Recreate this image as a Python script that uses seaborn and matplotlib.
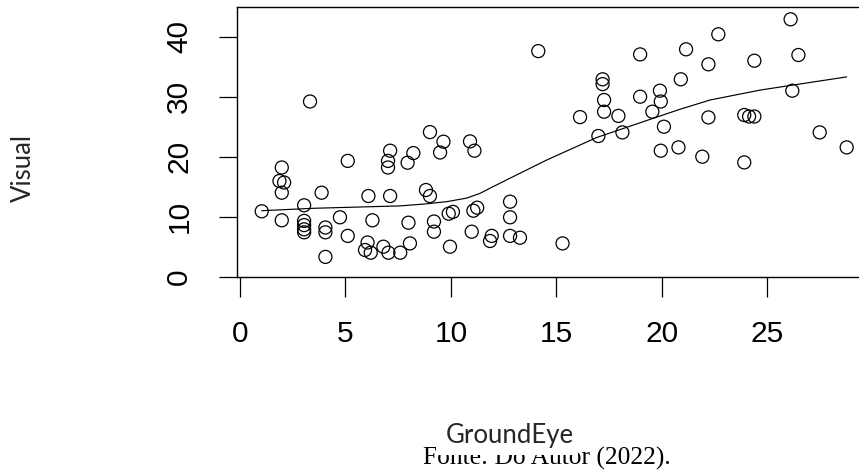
# Scatter of Visual vs GroundEye with a smoothed trend line (R base-graphics look)

import matplotlib
matplotlib.use("Agg")
import matplotlib.pyplot as plt
import matplotlib.patches as mpatches
import seaborn as sns


# ---------------------------------------------------------------------------
# Data
# ---------------------------------------------------------------------------

groundeye = [
    1.03, 1.98, 1.87, 2.09, 1.98, 1.98, 3.04, 3.04, 3.04, 3.04, 3.04,
    3.32, 3.87, 4.05, 4.05, 4.05, 4.74, 5.11, 5.11, 6.09, 6.28, 6.05,
    5.93, 6.20, 6.80, 7.04, 7.60, 7.12, 7.12, 7.02, 7.02, 7.95, 8.22,
    7.99, 8.06, 9.01, 9.65, 9.49, 8.82, 9.01, 9.20, 9.20, 9.90, 10.10,
    9.96, 10.91, 11.12, 10.99, 11.07, 11.25, 11.86, 11.94, 12.81, 12.81,
    12.81, 13.28, 14.15, 15.30, 16.13, 17.00, 17.20, 17.20, 17.27, 17.27,
    17.95, 18.14, 18.98, 18.98, 19.56, 19.92, 19.96, 20.11, 19.96, 20.80,
    20.91, 21.16, 21.93, 22.22, 22.22, 22.69, 23.92, 23.92, 24.15, 24.40,
    24.40, 26.12, 26.20, 26.49, 27.50, 28.78,
]
visual = [
    10.9, 18.2, 15.95, 15.7, 14.0, 9.4, 11.9, 9.3, 8.6, 7.9, 7.4,
    29.2, 14.0, 8.2, 7.4, 3.3, 9.9, 19.3, 6.8, 13.45, 9.4, 5.7,
    4.45, 4.0, 5.0, 4.0, 4.0, 13.45, 21.0, 19.3, 18.2, 19.0, 20.6,
    9.0, 5.55, 24.1, 22.5, 20.7, 14.45, 13.45, 9.2, 7.5, 10.5, 10.8,
    5.0, 22.55, 21.0, 7.5, 11.0, 11.5, 5.95, 6.8, 12.5, 9.9,
    6.8, 6.5, 37.6, 5.55, 26.6, 23.45, 32.9, 32.1, 29.45, 27.5,
    26.8, 24.05, 37.05, 30.0, 27.5, 31.0, 29.2, 25.0, 21.0, 21.55,
    32.9, 37.9, 20.0, 35.4, 26.55, 40.4, 26.95, 19.05, 26.7, 26.7,
    36.0, 42.9, 31.0, 36.95, 24.05, 21.55,
]

# smoothed trend line as traced on the picture
smooth_x = [1.03, 3.48, 5.50, 7.59, 8.70, 9.80, 10.75, 11.39, 12.00, 12.97,
            14.55, 16.13, 16.92, 18.18, 19.60, 20.87, 22.30, 24.67, 26.25, 28.78]
smooth_y = [11.0, 11.4, 11.6, 11.8, 12.1, 12.5, 13.1, 13.9, 15.0, 16.7,
            19.45, 21.95, 23.2, 24.7, 26.4, 27.9, 29.45, 31.1, 31.95, 33.3]

x_ticks = [0, 5, 10, 15, 20, 25]
y_ticks = [0, 10, 20, 30, 40]


# ---------------------------------------------------------------------------
# Style
# ---------------------------------------------------------------------------

sns.set_style("white")
plt.rcParams["font.family"] = ["Liberation Sans", "DejaVu Sans"]
plt.rcParams["text.color"] = "black"
plt.rcParams["xtick.color"] = "black"
plt.rcParams["ytick.color"] = "black"

W, H = 859, 470
fig = plt.figure(figsize=(W / 100, H / 100), dpi=100)

# axes box runs past the right edge, like the cropped original
ax = fig.add_axes([237.3 / W, (H - 277.3) / H, 635.1 / W, 270 / H])

sns.scatterplot(x=groundeye, y=visual, ax=ax, marker="o", s=88,
                facecolors="none", edgecolor="black", linewidth=0.9)
sns.lineplot(x=smooth_x, y=smooth_y, ax=ax, color="black", linewidth=0.85,
             sort=False, estimator=None)

ax.set_xlim(-0.13, 30.0)
ax.set_ylim(-0.1, 44.9)
ax.set_xticks(x_ticks)
ax.set_yticks(y_ticks)

for sp in ax.spines.values():
    sp.set_color("black")
    sp.set_linewidth(1.0)

ax.tick_params(axis="x", bottom=True, length=14.4, width=0.9, pad=16.5,
               labelsize=21.5, direction="out")
ax.tick_params(axis="y", left=True, length=13, width=0.9, pad=18.7,
               labelsize=21.5, labelrotation=90, direction="out")
for lab in ax.get_yticklabels():
    lab.set_verticalalignment("center")

# ---------------------------------------------------------------------------
# Labels
# ---------------------------------------------------------------------------

ax.set_ylabel("Visual", family=["Lato", "DejaVu Sans"], fontsize=18.5,
              va="center", ha="center")
ax.yaxis.set_label_coords(23 / W, (H - 168) / H, transform=fig.transFigure)

ax.set_xlabel("GroundEye", family=["Lato", "DejaVu Sans"], fontsize=18.5,
              va="baseline", ha="center")
ax.xaxis.set_label_coords(510 / W, (H - 443.3) / H, transform=fig.transFigure)

# source line sits behind a white box (the label's box in the original),
# which hides the top of part of the text
fig.text(423 / W, (H - 465) / H, "Fonte: Do Autor (2022).",
         family=["Liberation Serif", "DejaVu Serif"], fontsize=18.4,
         ha="left", va="baseline", zorder=-1)
fig.patches.append(mpatches.Rectangle(
    (436 / W, (H - 455) / H), 142 / W, 32 / H,
    transform=fig.transFigure, facecolor="white", edgecolor="none",
    zorder=-0.5))

fig.savefig("out.png", dpi=100)
